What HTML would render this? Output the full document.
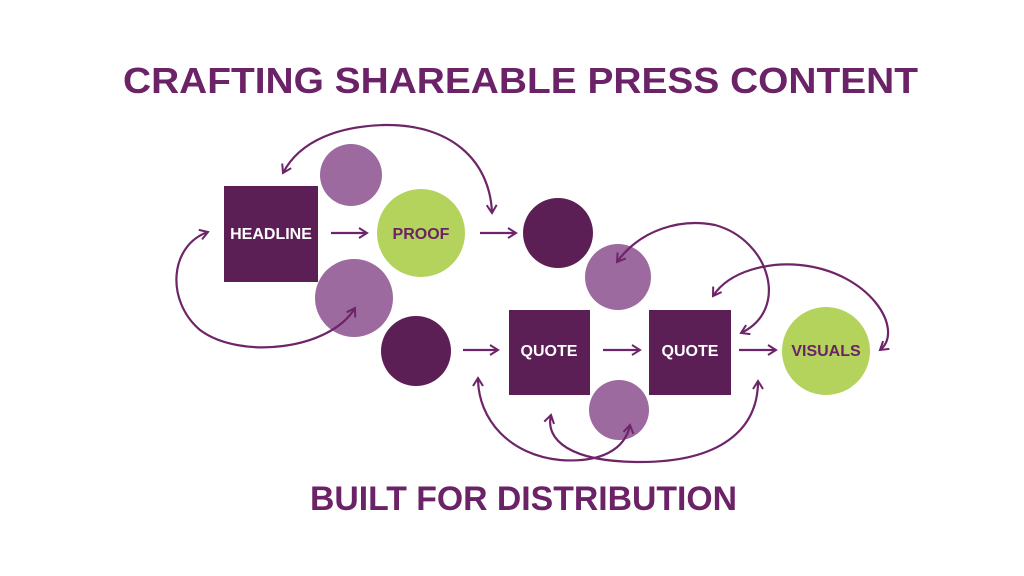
<!DOCTYPE html>
<html><head><meta charset="utf-8"><style>
html,body{margin:0;padding:0;background:#fff;}
svg{display:block}
text{font-family:"Liberation Sans",sans-serif;font-weight:bold}
</style></head><body>
<svg width="1024" height="576" viewBox="0 0 1024 576" xmlns="http://www.w3.org/2000/svg">
<defs>
<marker id="a" viewBox="0 0 12 12" refX="10" refY="6" markerWidth="12" markerHeight="12" markerUnits="userSpaceOnUse" orient="auto-start-reverse">
<path d="M2 1 L10 6 L2 11" fill="none" stroke="#6e2468" stroke-width="2"/>
</marker>
</defs>
<text x="123" y="93" font-size="36" fill="#6b2266" textLength="795" lengthAdjust="spacingAndGlyphs">CRAFTING SHAREABLE PRESS CONTENT</text>
<text x="310" y="510" font-size="34" fill="#6b2266" textLength="427" lengthAdjust="spacingAndGlyphs">BUILT FOR DISTRIBUTION</text>

<rect x="224" y="186" width="94" height="96" fill="#5c1f55"/>
<circle cx="351" cy="175" r="31" fill="#9c6a9f"/>
<circle cx="354" cy="298" r="39" fill="#9c6a9f"/>
<circle cx="421" cy="233" r="44" fill="#b3d35c"/>
<circle cx="416" cy="351" r="35" fill="#5c1f55"/>
<circle cx="558" cy="233" r="35" fill="#5c1f55"/>
<circle cx="618" cy="277" r="33" fill="#9c6a9f"/>
<rect x="509" y="310" width="81" height="85" fill="#5c1f55"/>
<rect x="649" y="310" width="82" height="85" fill="#5c1f55"/>
<circle cx="619" cy="410" r="30" fill="#9c6a9f"/>
<circle cx="826" cy="351" r="44" fill="#b3d35c"/>

<g fill="none" stroke="#6e2468" stroke-width="2.2">
<path d="M283 173 C300 140 340 126 385 125 C450 124 490 160 492 213" marker-start="url(#a)" marker-end="url(#a)"/>
<path d="M208 232 C170 245 165 300 200 330 C240 360 330 350 355 308" marker-start="url(#a)" marker-end="url(#a)"/>
<path d="M617 262 C640 230 680 218 715 225 C770 240 790 310 741 333" marker-start="url(#a)" marker-end="url(#a)"/>
<path d="M713 296 C730 270 770 262 800 265 C870 272 905 330 880 350" marker-start="url(#a)" marker-end="url(#a)"/>
<path d="M478 378 C478 420 510 455 560 460 C600 463 625 450 630 425" marker-start="url(#a)" marker-end="url(#a)"/>
<path d="M551 415 C545 440 570 462 640 462 C720 462 758 430 758 381" marker-start="url(#a)" marker-end="url(#a)"/>
<path d="M331 233 L367 233" marker-end="url(#a)"/>
<path d="M480 233 L516 233" marker-end="url(#a)"/>
<path d="M463 350 L498 350" marker-end="url(#a)"/>
<path d="M603 350 L640 350" marker-end="url(#a)"/>
<path d="M739 350 L776 350" marker-end="url(#a)"/>
</g>

<text x="271" y="239" font-size="16" fill="#fff" text-anchor="middle">HEADLINE</text>
<text x="421" y="239" font-size="16" fill="#6b2266" text-anchor="middle">PROOF</text>
<text x="549" y="356" font-size="16" fill="#fff" text-anchor="middle">QUOTE</text>
<text x="690" y="356" font-size="16" fill="#fff" text-anchor="middle">QUOTE</text>
<text x="826" y="356" font-size="16" fill="#6b2266" text-anchor="middle">VISUALS</text>
</svg>
</body></html>
